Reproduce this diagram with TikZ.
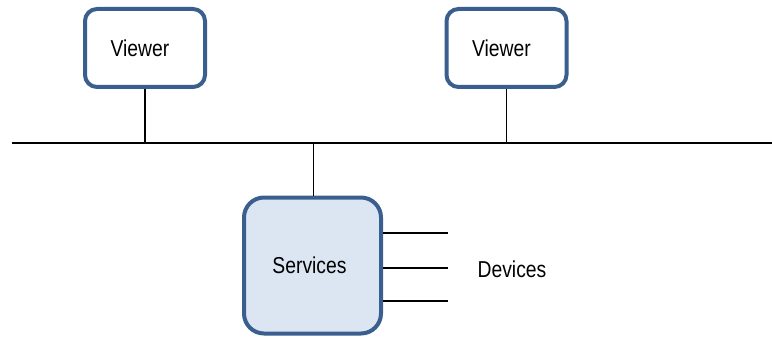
\documentclass[tikz,border=0pt]{standalone}
\usepackage{fontspec}
\setmainfont{Liberation Sans}
\definecolor{boxborder}{HTML}{3A5F8F}
\definecolor{svcfill}{HTML}{DCE6F2}
\newcommand{\lbltext}[1]{\scalebox{0.84}[1]{\fontsize{23}{26}\selectfont #1}}
\begin{document}
\begin{tikzpicture}[x=1pt,y=-1pt,
  viewerbox/.style={draw=boxborder, line width=4pt, rounded corners=12pt, fill=white, minimum width=120pt, minimum height=78pt, inner sep=0pt},
  svcbox/.style={draw=boxborder, line width=4pt, rounded corners=20pt, fill=svcfill, minimum width=137pt, minimum height=136pt, inner sep=0pt},
  wire/.style={line width=1.5pt, black}]
\useasboundingbox (0,0) rectangle (772,337);
\node[viewerbox] (v1) at (145,48) {\hspace*{-10pt}\raisebox{-0.5pt}{\lbltext{Viewer}}};
\node[viewerbox] (v2) at (506.5,48) {\hspace*{-10pt}\raisebox{-0.5pt}{\lbltext{Viewer}}};
\node[svcbox] (svc) at (312.5,265.5) {\hspace*{-6pt}\raisebox{-1.5pt}{\lbltext{Services}}};
\coordinate (busL) at (12,143);
\coordinate (busR) at (772,143);
\draw[wire] (busL) -- (busR);
\coordinate (b1) at (145,143);
\coordinate (b2) at (506.5,143);
\coordinate (b3) at (313.5,143);
\draw[wire] (v1.south) -- (b1);
\draw[wire] (v2.south) -- (b2);
\draw[wire] (b3) -- (b3 |- svc.north);
\coordinate (d1) at (448,233);
\coordinate (d2) at (448,268);
\coordinate (d3) at (448,301);
\draw[wire] (d1 -| svc.east) -- (d1);
\draw[wire] (d2 -| svc.east) -- (d2);
\draw[wire] (d3 -| svc.east) -- (d3);
\node (dev) at (512,269) {\lbltext{Devices}};
\end{tikzpicture}
\end{document}
